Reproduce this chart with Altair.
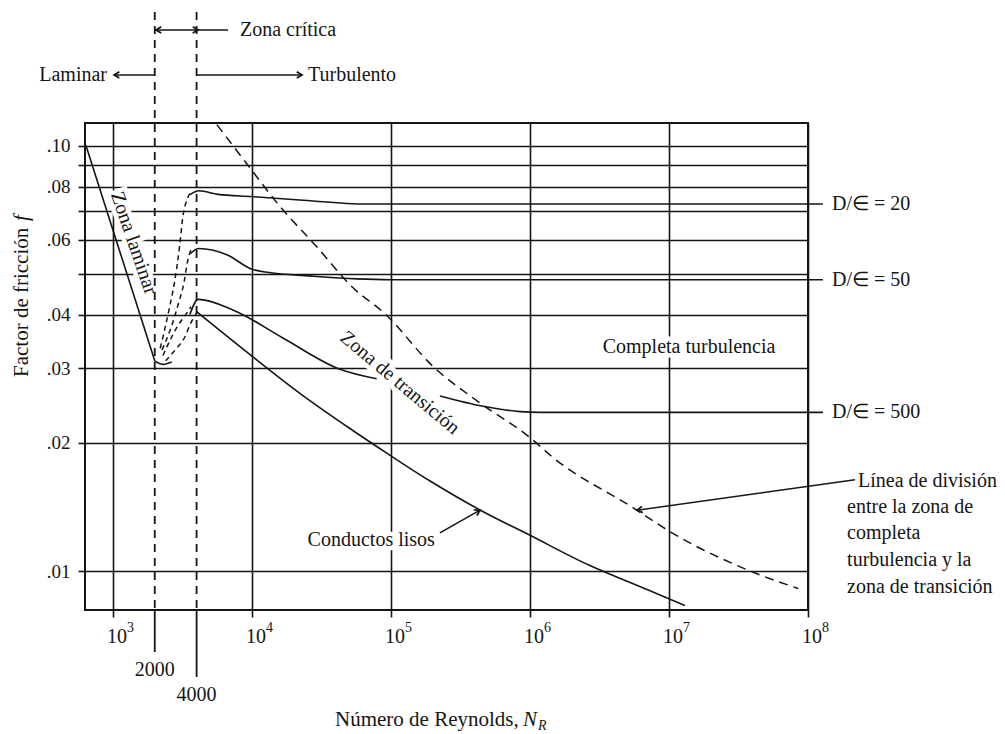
import math
import pandas as pd
import altair as alt

FONT = "Liberation Serif"
INK = "#151515"

# ---------------- axes ----------------
X_DOMAIN = [630, 1e8]
Y_DOMAIN = [0.0081, 0.113]
X_TICKS = [1e3, 1e4, 1e5, 1e6, 1e7, 1e8]
X_BASE = ["10", "10", "10", "10", "10", "10"]
X_EXPONENTS = ["3", "4", "5", "6", "7", "8"]
Y_TICKS = [0.01, 0.02, 0.03, 0.04, 0.05, 0.06, 0.07, 0.08, 0.09, 0.10]
Y_LABELS = [".01", ".02", ".03", ".04", "", ".06", "", ".08", "", ".10"]

CRITICAL_RE = [2000, 4000]
CRITICAL_LABELS = ["2000", "4000"]
CRITICAL_LABEL_F = [0.00585, 0.00512]

# ---------------- curves (Re, f) ----------------
RE_LAMINAR = [640, 2000]
F_LAMINAR = [0.100, 0.0312]
RE_HOOK = [2000, 2290, 2650]
F_HOOK = [0.0312, 0.0306, 0.0310]

RE_SMOOTH = [4000, 1.0e4, 2.2e4, 5.1e4, 9.4e4, 1.9e5, 4.4e5, 9.7e5, 2.7e6, 6.95e6, 1.3e7]
F_SMOOTH = [0.0407, 0.0320, 0.0262, 0.0216, 0.0189, 0.0163, 0.0139, 0.0122, 0.0103, 0.00905, 0.0083]

RE_R20 = [3600, 4130, 5700, 1.0e4, 2.2e4, 6.7e4, 1.28e8]
F_R20 = [0.0767, 0.0783, 0.0768, 0.0759, 0.0745, 0.0729, 0.0729]

RE_R50 = [3600, 4150, 6600, 1.0e4, 1.33e4, 2.6e4, 5.7e4, 1.0e5, 1.28e8]
F_R50 = [0.0557, 0.0573, 0.0554, 0.0512, 0.0503, 0.0494, 0.0486, 0.0484, 0.0484]

RE_R500_A = [3580, 4100, 7300, 1.67e4, 4.3e4, 7.9e4]
F_R500_A = [0.0401, 0.0435, 0.0411, 0.0353, 0.0298, 0.0283]
RE_R500_B = [2.25e5, 4.6e5, 8.5e5, 1.18e6, 1.28e8]
F_R500_B = [0.0258, 0.0244, 0.0237, 0.0236, 0.0236]

# critical zone (dashed)
RE_CZ20 = [2190, 2544, 2786, 3020, 3190, 3439, 3770]
F_CZ20 = [0.0334, 0.0414, 0.0481, 0.0581, 0.0682, 0.0751, 0.0783]
RE_CZ50 = [2255, 2624, 2958, 3265, 3439, 3650]
F_CZ50 = [0.0331, 0.0374, 0.0425, 0.0481, 0.0533, 0.0570]
RE_CZ500 = [2290, 2624, 2958, 3330, 3650]
F_CZ500 = [0.0321, 0.0353, 0.0379, 0.0400, 0.0418]
RE_CZS = [2396, 2873, 3265, 3650, 4000]
F_CZS = [0.0312, 0.0334, 0.0353, 0.0384, 0.0404]

# division line between complete turbulence and transition zone (dashed)
RE_DIV = [5600, 1.0e4, 1.54e4, 3.0e4, 5.2e4, 9.1e4, 2.0e5, 4.4e5, 1.0e6, 1.46e6, 5.5e6, 1.05e7, 4.0e7, 8.5e7]
F_DIV = [0.112, 0.0874, 0.0729, 0.0573, 0.0467, 0.0402, 0.0303, 0.0248, 0.0206, 0.0185, 0.0141, 0.0123, 0.00995, 0.0091]

# ---------------- annotations ----------------
SHAFT_RE = [1020, 2000, 4000, 2.25e5, 2.18e8]
SHAFT_RE2 = [2000, 6730, 22930, 4.37e5, 5.9e6]
SHAFT_F = [0.1466, 0.187, 0.1466, 0.0123, 0.0164]
SHAFT_F2 = [0.1466, 0.187, 0.1466, 0.0139, 0.0139]

ARROW_RE = [1020, 2041, 4094, 22930, 4.37e5, 5.9e6]
ARROW_F = [0.1466, 0.187, 0.187, 0.1466, 0.0139, 0.0139]
ARROW_ANGLE = [180, 180, 0, 0, 332, 172]

LEFT_TEXT = ["Zona crítica", "Turbulento", "D/∈ = 20", "D/∈ = 50", "D/∈ = 500",
             "Línea de división", "entre la zona de", "completa", "turbulencia y la", "zona de transición"]
LEFT_RE = [8210, 25300, 1.49e8, 1.49e8, 1.49e8, 2.29e8, 1.91e8, 1.91e8, 1.91e8, 1.91e8]
LEFT_F = [0.187, 0.1466, 0.0729, 0.0484, 0.0236, 0.0163, 0.01414, 0.0123, 0.0106, 0.00917]

RIGHT_TEXT = ["Laminar", "Conductos lisos"]
RIGHT_RE = [907, 2.07e5]
RIGHT_F = [0.1466, 0.0118]

CENTER_TEXT = ["Completa turbulencia"]
CENTER_RE = [1.394e7]
CENTER_F = [0.0336]

ROT_TEXT = ["Zona laminar", "Zona de transición"]
ROT_RE = [1416, 1.16e5]
ROT_F = [0.059, 0.0277]
ROT_ANGLE = [71, 40]

# ---------------- helpers ----------------
xs = alt.Scale(type="log", domain=X_DOMAIN, nice=False)
ys = alt.Scale(type="log", domain=Y_DOMAIN, nice=False)

yexpr = " : ".join(
    f"abs(datum.value - {v}) < 0.002 ? '{lab}'" for v, lab in zip(Y_TICKS, Y_LABELS)
) + " : ''"

x_axis = alt.Axis(values=X_TICKS, labels=False, grid=True, gridColor=INK, gridWidth=1.6,
                  tickColor=INK, tickWidth=1.6, tickSize=7, domain=False, title=None)
y_axis = alt.Axis(values=Y_TICKS, labelExpr=yexpr, grid=True, gridColor=INK, gridWidth=1.6,
                  tickColor=INK, tickWidth=1.6, tickSize=7, domain=False, labelFont=FONT,
                  labelFontSize=19, labelColor=INK, labelPadding=8, title=None,
                  labelOverlap=False, labelFlush=False)


def X(field="re"):
    return alt.X(f"{field}:Q", scale=xs, axis=x_axis)


def Y(field="f"):
    return alt.Y(f"{field}:Q", scale=ys, axis=y_axis)


def lines_df(series):
    rows = []
    for name, re_, f_ in series:
        for i, (r, v) in enumerate(zip(re_, f_)):
            rows.append({"series": name, "i": i, "re": r, "f": v})
    return pd.DataFrame(rows)


solid = lines_df([
    ("laminar", RE_LAMINAR, F_LAMINAR),
    ("hook", RE_HOOK, F_HOOK),
    ("smooth", RE_SMOOTH, F_SMOOTH),
    ("r20", RE_R20, F_R20),
    ("r50", RE_R50, F_R50),
    ("r500a", RE_R500_A, F_R500_A),
    ("r500b", RE_R500_B, F_R500_B),
])
crit = lines_df([
    ("c20", RE_CZ20, F_CZ20),
    ("c50", RE_CZ50, F_CZ50),
    ("c500", RE_CZ500, F_CZ500),
    ("cs", RE_CZS, F_CZS),
])
div = lines_df([("div", RE_DIV, F_DIV)])

rot_df = pd.DataFrame({"re": ROT_RE, "f": ROT_F, "label": ROT_TEXT, "angle": ROT_ANGLE})
halo_df = pd.DataFrame({
    "re": ROT_RE + CENTER_RE + [RIGHT_RE[1]],
    "f": ROT_F + CENTER_F + [RIGHT_F[1]],
    "label": ROT_TEXT + CENTER_TEXT + [RIGHT_TEXT[1]],
    "angle": ROT_ANGLE + [0, 0],
    "align": ["center", "center", "center", "right"],
})

layers = []

# white halos behind in-plot labels (interrupt grid lines like the original)
for al in ["center", "right"]:
    layers.append(
        alt.Chart(halo_df[halo_df["align"] == al]).mark_text(
            font=FONT, fontSize=20, color="white", stroke="white", strokeWidth=9,
            align=al, baseline="middle"
        ).encode(x=X(), y=Y(), text="label:N", angle=alt.Angle("angle:Q", scale=None))
    )

# solid curves
layers.append(
    alt.Chart(solid).mark_line(color=INK, strokeWidth=1.6, interpolate="monotone").encode(
        x=X(), y=Y(), detail="series:N", order="i:Q")
)
# critical zone dashed curves
layers.append(
    alt.Chart(crit).mark_line(color=INK, strokeWidth=1.5, strokeDash=[5, 4], interpolate="monotone").encode(
        x=X(), y=Y(), detail="series:N", order="i:Q")
)
# division line
layers.append(
    alt.Chart(div).mark_line(color=INK, strokeWidth=1.5, strokeDash=[9, 6], interpolate="monotone").encode(
        x=X(), y=Y(), order="i:Q")
)

# x tick labels: 10 with raised exponent
xlab_df = pd.DataFrame({"re": X_TICKS, "base": X_BASE, "exp": X_EXPONENTS})
layers.append(
    alt.Chart(xlab_df).mark_text(font=FONT, fontSize=20, color=INK, align="left", baseline="middle", dx=-6).encode(
        x=X(), y=alt.value(514), text="base:N")
)
layers.append(
    alt.Chart(xlab_df).mark_text(font=FONT, fontSize=14, color=INK, align="left", baseline="middle", dx=14).encode(
        x=X(), y=alt.value(505), text="exp:N")
)

# critical Reynolds vertical lines
crit_df = pd.DataFrame({"re": CRITICAL_RE, "label": CRITICAL_LABELS, "f": CRITICAL_LABEL_F})
layers.append(
    alt.Chart(crit_df).mark_rule(color=INK, strokeWidth=1.8, strokeDash=[8, 6]).encode(
        x=X(), y=alt.value(-111), y2=alt.value(487))
)
layers.append(
    alt.Chart(crit_df).transform_filter("datum.re < 3000").mark_rule(color=INK, strokeWidth=1.8).encode(
        x=X(), y=alt.value(487), y2=alt.value(529))
)
layers.append(
    alt.Chart(crit_df).transform_filter("datum.re > 3000").mark_rule(color=INK, strokeWidth=1.8).encode(
        x=X(), y=alt.value(487), y2=alt.value(554))
)
layers.append(
    alt.Chart(crit_df).mark_text(font=FONT, fontSize=20, color=INK, align="center", baseline="middle").encode(
        x=X(), y=Y(), text="label:N")
)

# arrow shafts and heads
shaft_df = pd.DataFrame({"re": SHAFT_RE, "re2": SHAFT_RE2, "f": SHAFT_F, "f2": SHAFT_F2})
layers.append(
    alt.Chart(shaft_df).mark_rule(color=INK, strokeWidth=1.5).encode(
        x=X(), x2="re2:Q", y=Y(), y2="f2:Q")
)
arrow_df = pd.DataFrame({"re": ARROW_RE, "f": ARROW_F, "angle": ARROW_ANGLE})
layers.append(
    alt.Chart(arrow_df).mark_point(
        shape="M -1 -0.6 L 0 0 L -1 0.6", size=110, filled=False, color=INK, strokeWidth=1.8, opacity=1
    ).encode(x=X(), y=Y(), angle=alt.Angle("angle:Q", scale=None))
)

# texts
left_df = pd.DataFrame({"re": LEFT_RE, "f": LEFT_F, "label": LEFT_TEXT})
right_df = pd.DataFrame({"re": RIGHT_RE, "f": RIGHT_F, "label": RIGHT_TEXT})
center_df = pd.DataFrame({"re": CENTER_RE, "f": CENTER_F, "label": CENTER_TEXT})
for df, al in [(left_df, "left"), (right_df, "right"), (center_df, "center")]:
    layers.append(
        alt.Chart(df).mark_text(font=FONT, fontSize=20, color=INK, align=al, baseline="middle").encode(
            x=X(), y=Y(), text="label:N")
    )
layers.append(
    alt.Chart(rot_df).mark_text(font=FONT, fontSize=20, color=INK, align="center", baseline="middle").encode(
        x=X(), y=Y(), text="label:N", angle=alt.Angle("angle:Q", scale=None))
)

# axis titles
title_df = pd.DataFrame({"t": [0]})
layers.append(
    alt.Chart(title_df).mark_text(font=FONT, fontSize=21, color=INK, align="left", baseline="middle",
                                  angle=270, text="Factor de fricción").encode(
        x=alt.value(-63), y=alt.value(254))
)
layers.append(
    alt.Chart(title_df).mark_text(font=FONT, fontSize=21, color=INK, align="left", baseline="middle",
                                  angle=270, fontStyle="italic", text="f").encode(
        x=alt.value(-63), y=alt.value(98))
)
layers.append(
    alt.Chart(title_df).mark_text(font=FONT, fontSize=21, color=INK, align="left", baseline="middle",
                                  text="Número de Reynolds,").encode(
        x=alt.value(250), y=alt.value(597))
)
layers.append(
    alt.Chart(title_df).mark_text(font=FONT, fontSize=21, color=INK, align="left", baseline="middle",
                                  fontStyle="italic", text="N").encode(
        x=alt.value(438), y=alt.value(597))
)
layers.append(
    alt.Chart(title_df).mark_text(font=FONT, fontSize=14, color=INK, align="left", baseline="middle",
                                  fontStyle="italic", text="R").encode(
        x=alt.value(453), y=alt.value(603))
)

chart = alt.layer(*layers).properties(
    width=723,
    height=487,
    autosize=alt.AutoSizeParams(type="none"),
    padding={"left": 85, "top": 123, "right": 197, "bottom": 124},
    background="white",
).configure_view(stroke=INK, strokeWidth=2)

chart.save("out.html", embed_options={"renderer": "svg", "actions": False})
